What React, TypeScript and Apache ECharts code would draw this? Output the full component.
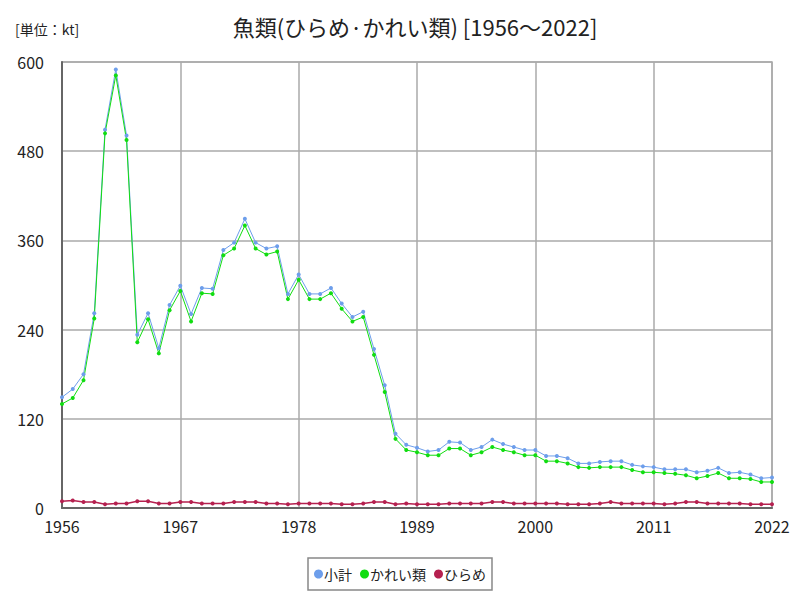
import React, { useEffect, useRef } from "react";
import * as echarts from "echarts";

const years: string[] = [];
for (let y = 1956; y <= 2022; y++) years.push(String(y));

const subtotal = [
  149, 160, 180, 262, 509, 590, 501, 233, 262, 215, 273, 299, 261, 296, 295, 347, 357, 389, 357, 349,
  352, 288, 314, 288, 288, 296, 275, 257, 264, 214, 165, 100, 85, 81, 76, 78, 89, 88, 78, 82,
  92, 86, 82, 78, 78, 70, 70, 67, 60, 60, 62, 63, 63, 58, 56, 55, 52, 52, 52, 48,
  50, 54, 47, 48, 45, 40, 41,
];
const karei = [
  140, 148, 172, 255, 504, 582, 495, 223, 254, 208, 266, 292, 251, 289, 288, 340, 349, 380, 349, 341,
  345, 281, 307, 281, 281, 289, 268, 251, 257, 206, 156, 93, 78, 75, 71, 71, 80, 80, 71, 75,
  82, 78, 75, 71, 71, 63, 63, 60, 55, 54, 55, 55, 55, 51, 48, 48, 47, 46, 44, 40,
  43, 47, 40, 40, 39, 35, 35,
];
const hirame = [
  9, 10, 8, 8, 5, 6, 6, 9, 9, 6, 6, 8, 8, 6, 6, 6, 8, 8, 8, 6,
  6, 5, 6, 6, 6, 6, 5, 5, 6, 8, 8, 5, 6, 5, 5, 5, 6, 6, 6, 6,
  8, 8, 6, 6, 6, 6, 6, 5, 5, 5, 6, 8, 6, 6, 6, 6, 5, 6, 8, 8,
  6, 6, 6, 6, 5, 5, 5,
];

const FONT = "'Noto Sans CJK JP', sans-serif";

export default function App() {
  const ref = useRef<HTMLDivElement>(null);
  useEffect(() => {
    if (!ref.current) return;
    const chart = echarts.init(ref.current, undefined, { renderer: "svg" });
    const mk = (name: string, data: number[], color: string, lw: number) => ({
      name,
      type: "line",
      data,
      symbol: "circle",
      symbolSize: 4,
      showSymbol: true,
      lineStyle: { color, width: lw },
      itemStyle: { color },
      emphasis: { disabled: true },
    });
    chart.setOption({
      animation: false,
      backgroundColor: "#ffffff",
      textStyle: { fontFamily: FONT },
      title: [
        {
          text: "魚類(ひらめ·かれい類) [1956〜2022]",
          left: 410,
          top: 10,
          textAlign: "center",
          textStyle: { fontFamily: FONT, fontSize: 22, fontWeight: "normal", color: "#222" },
        },
        {
          text: "[単位：kt]",
          left: 10,
          top: 17,
          textStyle: { fontFamily: FONT, fontSize: 14, fontWeight: "normal", color: "#222" },
        },
      ],
      grid: { left: 62, right: 28, top: 62, bottom: 92, containLabel: false, show: true, borderColor: "#aaa", borderWidth: 1.5 },
      legend: {
        bottom: 10,
        left: "center",
        data: ["小計", "かれい類", "ひらめ"],
        icon: "circle",
        itemWidth: 9,
        itemHeight: 9,
        itemGap: 8,
        borderColor: "#888",
        borderWidth: 1.5,
        padding: [9, 6, 9, 6],
        textStyle: { fontFamily: FONT, fontSize: 14, color: "#222", padding: [0, 0, 0, -4] },
      },
      xAxis: {
        type: "category",
        data: years,
        boundaryGap: false,
        axisLine: { lineStyle: { color: "#666", width: 2 } },
        axisTick: { show: false },
        axisLabel: { interval: 10, color: "#222", fontSize: 16, margin: 10, fontFamily: FONT },
        splitLine: { show: true, interval: 10, lineStyle: { color: "#aaa", width: 1.5 } },
      },
      yAxis: {
        type: "value",
        min: 0,
        max: 600,
        interval: 120,
        axisLine: { show: true, lineStyle: { color: "#666", width: 2 } },
        axisTick: { show: false },
        axisLabel: { color: "#222", fontSize: 16, margin: 18, fontFamily: FONT },
        splitLine: { show: true, lineStyle: { color: "#aaa", width: 1.5 } },
      },
      series: [
        mk("小計", subtotal, "#6d9eeb", 1),
        mk("かれい類", karei, "#11dd11", 1),
        mk("ひらめ", hirame, "#b5204f", 1.5),
      ],
    });
    return () => chart.dispose();
  }, []);
  return <div ref={ref} style={{ width: 800, height: 600, margin: -8 }} />;
}
